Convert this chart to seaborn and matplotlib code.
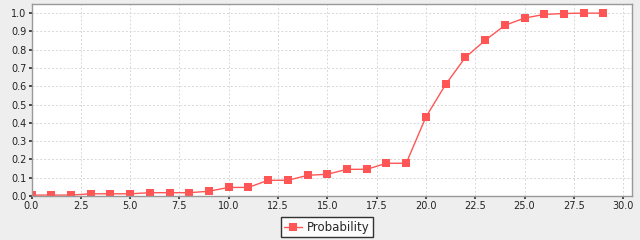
import matplotlib
matplotlib.use("Agg")
import matplotlib.pyplot as plt
import seaborn as sns
import pandas as pd
from matplotlib.ticker import MultipleLocator

x_values = list(range(30))
probability = [0.005, 0.005, 0.005, 0.012, 0.012, 0.012, 0.018, 0.018, 0.018, 0.026,
               0.047, 0.047, 0.086, 0.086, 0.113, 0.119, 0.146, 0.146, 0.179, 0.179,
               0.432, 0.610, 0.758, 0.851, 0.933, 0.973, 0.993, 0.998, 1.0, 1.0]
series_name = "Probability"

df = pd.DataFrame({"x": x_values, "y": probability, "series": series_name})

sns.set_theme(style="white")
plt.rcParams['font.family'] = ['DejaVu Sans']

fig = plt.figure(figsize=(6.4, 2.4), dpi=100, facecolor="#EEEEEE")
ax = fig.add_axes([31.5/640, 44/240, (632-31.5)/640, (196-4)/240])
ax.set_facecolor("white")

color = "#FF5555"
sns.lineplot(data=df, x="x", y="y", hue="series", palette=[color], ax=ax,
             marker="s", markersize=5.3, markeredgewidth=0, linewidth=1.0,
             legend=True)

ax.set_xlim(0, 30.45)
ax.set_ylim(0, 1.05)
ax.xaxis.set_major_locator(MultipleLocator(2.5))
ax.yaxis.set_major_locator(MultipleLocator(0.1))
ax.xaxis.set_major_formatter(matplotlib.ticker.FormatStrFormatter("%.1f"))
ax.yaxis.set_major_formatter(matplotlib.ticker.FormatStrFormatter("%.1f"))
ax.grid(True, color="#D8D8D8", linestyle=(0, (2, 2)), linewidth=0.7)
ax.set_xlabel("")
ax.set_ylabel("")
ax.tick_params(axis="both", labelsize=7, length=2, pad=1.5, colors="#333333",
               labelcolor="#222222", direction="out")
ax.tick_params(bottom=True, left=True)
for s in ax.spines.values():
    s.set_color("#999999")
    s.set_linewidth(1.0)

leg = ax.legend(loc="upper center", bbox_to_anchor=(0.4915, -0.11), frameon=True,
                fontsize=8.5, fancybox=False, edgecolor="black", handlelength=1.5,
                borderpad=0.3, handletextpad=0.4, borderaxespad=0)
leg.get_frame().set_linewidth(1.0)

fig.savefig("out.png", dpi=100, facecolor=fig.get_facecolor())
